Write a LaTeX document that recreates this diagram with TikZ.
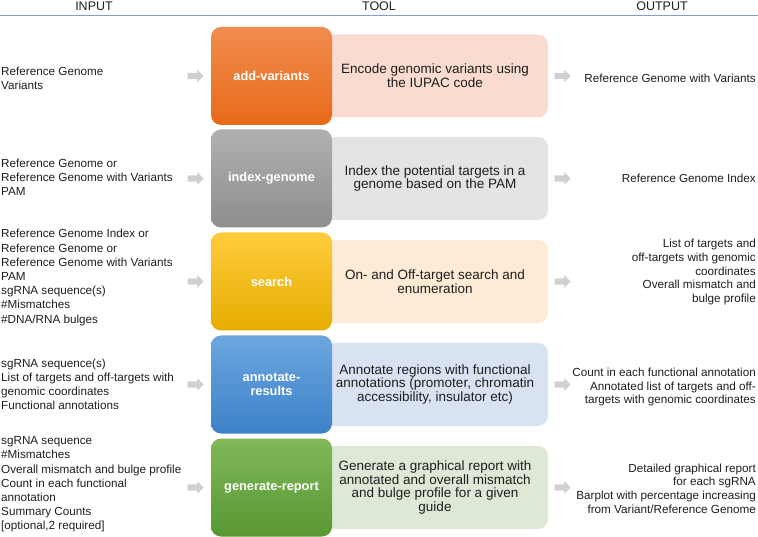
\documentclass[tikz,border=0pt]{standalone}
\usepackage{fontspec}
\setmainfont{Liberation Sans}
\usetikzlibrary{shapes.arrows}

\definecolor{txtgray}{RGB}{30,30,30}
\definecolor{rulblue}{RGB}{130,160,205}
\definecolor{arrgray}{RGB}{208,208,208}
\definecolor{orangetop}{RGB}{242,140,78}
\definecolor{orangebot}{RGB}{232,106,26}
\definecolor{orangelight}{RGB}{250,219,208}
\definecolor{graytop}{RGB}{176,176,176}
\definecolor{graybot}{RGB}{142,142,142}
\definecolor{graylight}{RGB}{228,228,228}
\definecolor{goldtop}{RGB}{255,204,60}
\definecolor{goldbot}{RGB}{230,172,0}
\definecolor{goldlight}{RGB}{253,235,213}
\definecolor{bluetop}{RGB}{108,166,224}
\definecolor{bluebot}{RGB}{60,130,200}
\definecolor{bluelight}{RGB}{216,226,240}
\definecolor{greentop}{RGB}{128,184,90}
\definecolor{greenbot}{RGB}{88,152,50}
\definecolor{greenlight}{RGB}{222,232,214}

\tikzset{
  head/.style={text=txtgray, inner sep=0pt, font=\fontsize{12.5}{14}\selectfont},
  inbox/.style={anchor=west, align=left, inner sep=0pt, text=txtgray, font=\fontsize{11.7}{14.2}\selectfont},
  outbox/.style={anchor=east, align=right, inner sep=0pt, text=txtgray, font=\fontsize{11.7}{13.7}\selectfont},
  toolbox/.style={rounded corners=10pt, minimum width=121pt, minimum height=98pt, align=center, text=white, font=\bfseries\fontsize{12.8}{14.5}\selectfont},
  descbox/.style={rounded corners=10pt, minimum width=226pt, minimum height=83pt, align=center, text=txtgray, font=\fontsize{13.5}{13.7}\selectfont},
  grayarrow/.style={single arrow, fill=arrgray, minimum height=16pt, inner sep=3pt, single arrow head extend=3pt, single arrow head indent=0pt}
}

\begin{document}
\begin{tikzpicture}[x=1pt, y=-1pt]
        \useasboundingbox (0,0) rectangle (758,537);

        % header
        \node[head] (hin) at (94,6) {INPUT};
        \node[head] (htool) at (379,6) {TOOL};
        \node[head] (hout) at (662,6) {OUTPUT};
        \draw[rulblue, line width=1pt] (0,16) -- (758,16);

        % add-variants
        \node[inbox] (in1) at (1,78) {Reference Genome\\Variants};
        \node[grayarrow] (al1) at (194,76) {};
        \node[descbox, fill=orangelight] (desc1) at (435,76) {Encode genomic variants using\\the IUPAC code};
        \node[toolbox, top color=orangetop, bottom color=orangebot] (tool1) at (271.5,76) {add-variants};
        \node[grayarrow] (ar1) at (561,76) {};
        \node[outbox] (out1) at (756,78) {Reference Genome with Variants};

        % index-genome
        \node[inbox] (in2) at (1,177.5) {Reference Genome or\\Reference Genome with Variants\\PAM};
        \node[grayarrow] (al2) at (194,178.5) {};
        \node[descbox, fill=graylight] (desc2) at (435,178.5) {Index the potential targets in a\\genome based on the PAM};
        \node[toolbox, top color=graytop, bottom color=graybot] (tool2) at (271.5,178.5) {index-genome};
        \node[grayarrow] (ar2) at (561,178.5) {};
        \node[outbox] (out2) at (756,178.5) {Reference Genome Index};

        % search
        \node[inbox] (in3) at (1,277.5) {Reference Genome Index or\\Reference Genome or\\Reference Genome with Variants\\PAM\\sgRNA sequence(s)\\\#Mismatches\\\#DNA/RNA bulges};
        \node[grayarrow] (al3) at (194,281.5) {};
        \node[descbox, fill=goldlight] (desc3) at (435,281.5) {On- and Off-target search and\\enumeration};
        \node[toolbox, top color=goldtop, bottom color=goldbot] (tool3) at (271.5,281.5) {search};
        \node[grayarrow] (ar3) at (561,281.5) {};
        \node[outbox] (out3) at (756,272) {List of targets and\\off-targets with genomic\\coordinates\\Overall mismatch and\\bulge profile};

        % annotate-results
        \node[inbox] (in4) at (1,384.5) {sgRNA sequence(s)\\List of targets and off-targets with\\genomic coordinates\\Functional annotations};
        \node[grayarrow] (al4) at (194,384.5) {};
        \node[descbox, fill=bluelight] (desc4) at (435,384.5) {Annotate regions with functional\\annotations (promoter, chromatin\\accessibility, insulator etc)};
        \node[toolbox, top color=bluetop, bottom color=bluebot] (tool4) at (271.5,384.5) {annotate-\\results};
        \node[grayarrow] (ar4) at (561,384.5) {};
        \node[outbox] (out4) at (756,387) {Count in each functional annotation\\Annotated list of targets and off-\\targets with genomic coordinates};

        % generate-report
        \node[inbox] (in5) at (1,484.5) {sgRNA sequence\\\#Mismatches\\Overall mismatch and bulge profile\\Count in each functional\\annotation\\Summary Counts\\{[optional,2 required]}};
        \node[grayarrow] (al5) at (194,487.5) {};
        \node[descbox, fill=greenlight] (desc5) at (435,487.5) {Generate a graphical report with\\annotated and overall mismatch\\and bulge profile for a given\\guide};
        \node[toolbox, top color=greentop, bottom color=greenbot] (tool5) at (271.5,487.5) {generate-report};
        \node[grayarrow] (ar5) at (561,487.5) {};
        \node[outbox] (out5) at (756,488.5) {Detailed graphical report\\for each sgRNA\\Barplot with percentage increasing\\from Variant/Reference Genome};

    \end{tikzpicture}
\end{document}
